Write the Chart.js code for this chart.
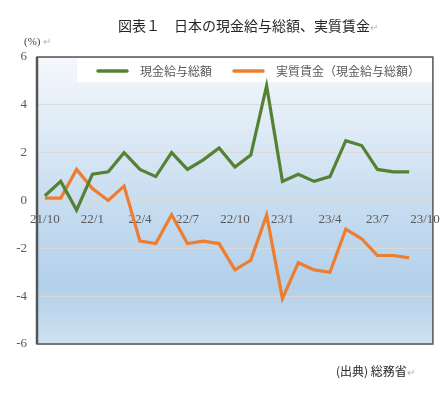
<!DOCTYPE html>
<html>
<head>
<meta charset="utf-8">
<script src="https://cdn.jsdelivr.net/npm/chart.js@4/dist/chart.umd.min.js"></script>
<style>
  html, body { margin: 0; padding: 0; background: #fff; }
  #wrap { position: relative; width: 447px; height: 396px; overflow: hidden; }
  #c { position: absolute; left: 0; top: 0; }
  .txt { position: absolute; white-space: nowrap; font-family: "Noto Sans CJK JP", sans-serif; }
  .ret { color: #b0b0b0; font-size: 10px; }
</style>
</head>
<body>
<div id="wrap">
  <canvas id="c" width="447" height="396"></canvas>
  <div class="txt" style="left:118px; top:15px; font-size:14px; color:#262626;">図表１　日本の現金給与総額、実質賃金<span class="ret">↵</span></div>
  <div class="txt" style="left:24px; top:35px; font-size:11px; color:#404040; font-family:'Liberation Serif', serif;">(%) <span class="ret">↵</span></div>
  <div class="txt" style="left:336px; top:362px; font-size:12px; color:#262626;">(出典) 総務省<span class="ret">↵</span></div>
</div>
<script>
// months on the axis (23/10 has no data yet)
const months = ['21/10','21/11','21/12','22/1','22/2','22/3','22/4','22/5','22/6','22/7','22/8','22/9',
  '22/10','22/11','22/12','23/1','23/2','23/3','23/4','23/5','23/6','23/7','23/8','23/9','23/10'];
const totalWages = [0.2, 0.8, -0.4, 1.1, 1.2, 2.0, 1.3, 1.0, 2.0, 1.3, 1.7, 2.2,
  1.4, 1.9, 4.8, 0.8, 1.1, 0.8, 1.0, 2.5, 2.3, 1.3, 1.2, 1.2];
const realWages = [0.1, 0.1, 1.3, 0.5, 0.0, 0.6, -1.7, -1.8, -0.6, -1.8, -1.7, -1.8,
  -2.9, -2.5, -0.6, -4.1, -2.6, -2.9, -3.0, -1.2, -1.6, -2.3, -2.3, -2.4];
const yTicks = [6, 4, 2, 0, -2, -4, -6];

const serif = "'Liberation Serif', 'DejaVu Serif', serif";
const jp = "'Noto Sans CJK JP', sans-serif";

const bgPlugin = {
  id: 'bg',
  beforeDraw(chart) {
    const { ctx, chartArea: a } = chart;
    const g = ctx.createLinearGradient(0, a.top, 0, a.bottom);
    g.addColorStop(0, '#f5f8fc');
    g.addColorStop(0.5, '#c8ddf0');
    g.addColorStop(0.8, '#b3d0ea');
    g.addColorStop(1, '#cfe1f1');
    ctx.save();
    ctx.fillStyle = g;
    ctx.fillRect(a.left, a.top, a.right - a.left, a.bottom - a.top);
    ctx.restore();
  },
  afterDraw(chart) {
    const { ctx, chartArea: a } = chart;
    ctx.save();
    ctx.strokeStyle = '#555';
    ctx.lineWidth = 1.5;
    ctx.strokeRect(a.left, a.top, a.right - a.left, a.bottom - a.top);
    ctx.lineWidth = 2.5;
    ctx.beginPath();
    ctx.moveTo(a.left, a.top);
    ctx.lineTo(a.left, a.bottom);
    ctx.stroke();
    ctx.restore();
  }
};

// legend drawn inside the plot on a white band
const legendPlugin = {
  id: 'boxLegend',
  beforeDatasetsDraw(chart) {
    const { ctx, chartArea: a } = chart;
    ctx.save();
    ctx.fillStyle = '#ffffff';
    ctx.fillRect(77, a.top + 1, a.right - 78, 24);
    const starts = [98, 234];
    ctx.font = '12px ' + jp;
    ctx.textBaseline = 'middle';
    chart.data.datasets.forEach((ds, i) => {
      const x = starts[i], y = a.top + 14;
      ctx.strokeStyle = ds.borderColor;
      ctx.lineWidth = 3.5;
      ctx.lineCap = 'round';
      ctx.beginPath();
      ctx.moveTo(x, y);
      ctx.lineTo(x + 29, y);
      ctx.stroke();
      ctx.fillStyle = '#595959';
      ctx.fillText(ds.label, x + 42, y);
    });
    ctx.restore();
  }
};

new Chart(document.getElementById('c'), {
  type: 'line',
  data: {
    labels: months,
    datasets: [
      { label: '現金給与総額', data: totalWages, borderColor: '#548235', borderWidth: 3.2 },
      { label: '実質賃金（現金給与総額）', data: realWages, borderColor: '#ed7d31', borderWidth: 3.2 }
    ]
  },
  options: {
    responsive: false,
    animation: false,
    layout: { padding: { top: 57, bottom: 52, left: 0, right: 11 } },
    elements: { point: { radius: 0 }, line: { tension: 0, borderJoinStyle: 'miter' } },
    plugins: { legend: { display: false }, tooltip: { enabled: false } },
    scales: {
      x: {
        type: 'category',
        position: { y: 0 },
        offset: true,
        afterFit(s) { s.height = 0; },
        grid: {
          offset: true,
          drawOnChartArea: false,
          tickLength: 4,
          tickColor: (c) => (c.index % 3 === 0 ? '#d9d9d9' : 'rgba(0,0,0,0)')
        },
        border: { color: '#d9d9d9', width: 1 },
        ticks: {
          autoSkip: false,
          maxRotation: 0,
          padding: 7,
          color: '#595959',
          font: { family: serif, size: 13 },
          callback(v, i) { return i % 3 === 0 ? months[i] : ''; }
        }
      },
      y: {
        min: -6,
        max: 6,
        afterFit(s) { s.width = 37; },
        afterBuildTicks(s) { s.ticks = yTicks.map(v => ({ value: v })); },
        grid: { color: '#d9d9d9', lineWidth: 1, drawTicks: false },
        border: { display: false },
        ticks: { padding: 10, color: '#595959', font: { family: serif, size: 13 } }
      }
    }
  },
  plugins: [bgPlugin, legendPlugin]
});
</script>
</body>
</html>
